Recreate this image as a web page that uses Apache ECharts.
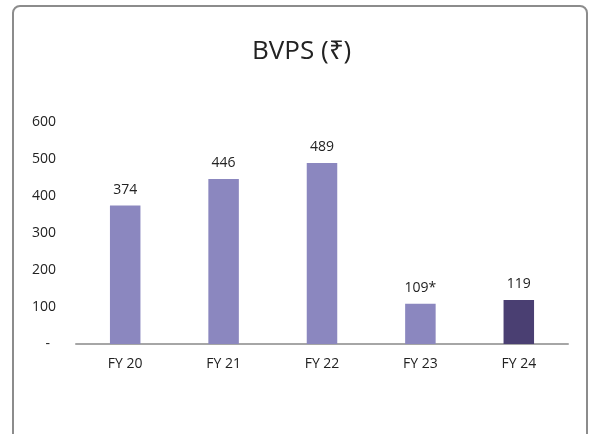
<!DOCTYPE html>
<html>
<head>
  <meta charset="utf-8">
  <title>BVPS</title>
  <script src="https://cdn.jsdelivr.net/npm/echarts@6/dist/echarts.min.js"></script>
  <style>
    html, body { margin: 0; padding: 0; background: #fff; }
    #frame {
      position: absolute; left: 12px; top: 5px; width: 576px; height: 450px;
      border: 2px solid #8c8c8c; border-radius: 8px; box-sizing: border-box;
    }
    #main { position: absolute; left: 0; top: 0; width: 591px; height: 434px; }
  </style>
</head>
<body>
  <div id="frame"></div>
  <div id="main"></div>
  <script type="text/javascript">
    // data
    var years = ['FY 20', 'FY 21', 'FY 22', 'FY 23', 'FY 24'];
    var bvps = [374, 446, 489, 109, 119];
    var valueLabels = ['374', '446', '489', '109*', '119'];
    var yTicks = [0, 100, 200, 300, 400, 500, 600];

    var barData = bvps.map(function (v, i) {
      return {
        value: v,
        itemStyle: { color: i === bvps.length - 1 ? '#4a3f72' : '#8b87bf' }
      };
    });

    var chart = echarts.init(document.getElementById('main'));
    var option = {
      animation: false,
      title: {
        text: 'BVPS (₹)',
        left: 247,
        top: 34,
        textStyle: { fontFamily: 'Open Sans', fontSize: 26, fontWeight: 'normal', color: '#222' }
      },
      grid: { left: 76, right: 23, top: 122, bottom: 90 },
      xAxis: {
        type: 'category',
        data: years,
        axisLine: { lineStyle: { color: '#a6a6a6', width: 2 } },
        axisTick: { show: false },
        axisLabel: { color: '#222', fontSize: 14, fontFamily: 'Open Sans', margin: 13 }
      },
      yAxis: {
        type: 'value',
        min: yTicks[0],
        max: yTicks[yTicks.length - 1],
        interval: 100,
        splitLine: { show: false },
        axisLine: { show: false },
        axisTick: { show: false },
        axisLabel: {
          color: '#222', fontSize: 14, fontFamily: 'Open Sans', margin: 20,
          formatter: function (v) { return v === 0 ? '{d|-}' : String(v); },
          rich: { d: { fontSize: 14, color: '#222', padding: [0, 6, 0, 0] } }
        }
      },
      series: [{
        type: 'bar',
        data: barData,
        barWidth: '31%',
        label: {
          show: true,
          position: 'top',
          distance: 9,
          color: '#222',
          fontSize: 14,
          fontFamily: 'Open Sans',
          formatter: function (p) { return valueLabels[p.dataIndex]; }
        }
      }]
    };
    chart.setOption(option);
  </script>
</body>
</html>
